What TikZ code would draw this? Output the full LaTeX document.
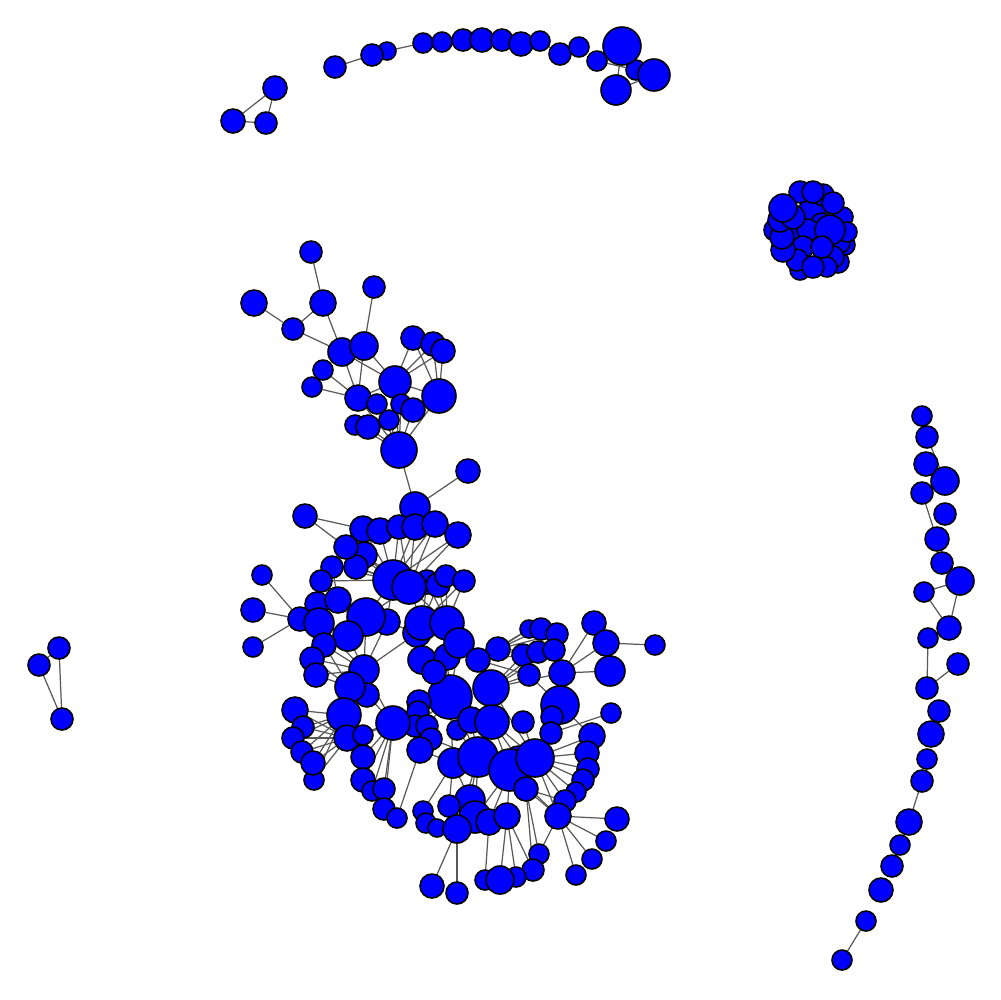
\documentclass[tikz,border=0pt]{standalone}
\pgfdeclarelayer{bg}
\pgfsetlayers{bg,main}
\tikzset{
  vx/.style={circle,draw=black,fill={rgb,255:red,0;green,0;blue,255},inner sep=0pt,line width=0.45pt},
  ed/.style={draw=black!65,line width=0.35pt}
}
\newcommand\V[4]{\node[vx,minimum size=#4*0.2mm] (#1) at (#2,#3) {};}
\begin{document}
\begin{tikzpicture}[x=0.1mm,y=-0.1mm]
\useasboundingbox (0,0) rectangle (1000,1000);
% top-left triangle
\V{t1}{275}{88}{12}\V{t2}{233}{121}{12}\V{t3}{266}{123}{11}
% top arc
\V{a1}{335}{67}{11}\V{a3}{387}{51}{9}\V{a2}{372}{55}{11}\V{a4}{423}{43}{10}\V{a5}{442}{42}{10}
\V{a6}{463}{40}{11}\V{a7}{482}{40}{12}\V{a8}{502}{40}{11}\V{a9}{521}{44}{12}\V{a10}{540}{41}{10}
\V{a11}{560}{54}{11}\V{a12}{579}{47}{10}\V{a13}{597}{61}{10}\V{a15}{636}{70}{10}\V{a14}{622}{46}{19}
\V{a16}{654}{75}{16}\V{a17}{616}{90}{15}
% dense cluster
\V{c21}{812}{212}{14}\V{c22}{805}{237}{13}\V{c23}{822}{225}{12}\V{c24}{792}{247}{12}\V{c25}{838}{262}{11}
\V{c26}{800}{270}{10}\V{c27}{845}{245}{10}\V{c28}{823}{195}{11}\V{c29}{775}{230}{11}
\V{c1}{790}{230}{12}\V{c2}{808}{230}{11}\V{c3}{803}{247}{11}\V{c4}{840}{243}{10}\V{c5}{843}{217}{10}
\V{c6}{847}{232}{10}\V{c7}{833}{257}{11}\V{c8}{797}{260}{11}\V{c9}{827}{267}{10}\V{c11}{783}{250}{12}
\V{c12}{782}{237}{12}\V{c13}{780}{220}{12}\V{c14}{793}{217}{12}\V{c15}{833}{203}{11}\V{c16}{800}{192}{11}
\V{c17}{783}{208}{14}\V{c18}{830}{230}{15}\V{c19}{822}{247}{11}\V{c20}{813}{192}{11}\V{c10}{813}{267}{11}
% left triple
\V{e1}{59}{648}{11}\V{e2}{39}{665}{11}\V{e3}{62}{719}{11}
% right arc
\V{s1}{922}{416}{10}\V{s2}{927}{437}{11}\V{s3}{926}{464}{12}\V{s4}{945}{481}{14}\V{s5}{922}{493}{11}
\V{s6}{945}{514}{11}\V{s7}{937}{539}{12}\V{s8}{942}{563}{11}\V{s9}{960}{581}{14}\V{s10}{924}{592}{10}
\V{s11}{949}{628}{12}\V{s12}{928}{638}{10}\V{s13}{958}{664}{11}\V{s14}{927}{688}{11}\V{s15}{939}{711}{11}
\V{s16}{931}{734}{13}\V{s17}{927}{759}{10}\V{s18}{922}{781}{11}\V{s19}{909}{822}{13}\V{s20}{900}{845}{10}
\V{s21}{892}{866}{11}\V{s22}{881}{890}{12}\V{s23}{866}{921}{10}\V{s24}{842}{960}{10}
% upper-left cluster
\V{uA}{311}{252}{11}\V{uB}{254}{303}{13}\V{uC}{323}{303}{13}\V{uD}{293}{329}{11}\V{uE}{374}{287}{11}
\V{uF}{342}{352}{14}\V{uG}{364}{346}{14}\V{uH}{323}{370}{10}\V{uI}{312}{387}{10}\V{uJ}{413}{338}{12}
\V{uK}{433}{344}{12}\V{uL}{443}{351}{12}\V{uM}{395}{382}{16}\V{uN}{439}{396}{17}\V{uO}{358}{398}{13}
\V{uP}{377}{404}{10}\V{uQ}{401}{404}{10}\V{uR}{413}{410}{12}\V{uS}{355}{425}{10}\V{uT}{368}{427}{12}
\V{uU}{389}{420}{10}\V{uV}{399}{450}{18}\V{uW}{468}{471}{12}
% main cluster
\V{m1}{415}{507}{15}\V{m2}{305}{516}{12}\V{m3}{363}{529}{13}\V{m4}{380}{531}{13}\V{m5}{399}{527}{12}
\V{m6}{415}{527}{13}\V{m7}{435}{524}{13}\V{m8}{458}{535}{13}\V{m10}{364}{555}{13}\V{m11}{356}{567}{12}
\V{m9}{346}{547}{12}\V{m12}{332}{567}{11}\V{m13}{321}{581}{11}\V{m16}{427}{582}{12}\V{m17}{438}{585}{12}
\V{m18}{446}{576}{11}\V{m19}{464}{581}{11}\V{m14}{393}{580}{20}\V{m15}{409}{587}{17}
\V{m20}{262}{575}{10}\V{m21}{253}{610}{12}\V{m22}{253}{647}{10}\V{m24}{317}{604}{12}\V{m25}{338}{600}{13}
\V{m23}{300}{619}{12}\V{m26}{319}{623}{15}\V{m28}{387}{622}{13}\V{m27}{366}{617}{19}\V{m29}{348}{636}{15}
\V{m31}{417}{633}{14}\V{m30}{422}{623}{17}\V{m32}{447}{623}{17}\V{m33}{324}{645}{12}\V{m34}{312}{659}{12}
\V{m35}{316}{675}{12}\V{m36}{364}{670}{15}\V{m43}{367}{695}{12}\V{m42}{350}{687}{15}
\V{r17}{450}{697}{22}
\V{m37}{422}{660}{14}\V{m38}{447}{657}{13}\V{m39}{459}{643}{15}\V{m40}{434}{672}{12}
\V{r61}{419}{702}{12}\V{r67}{418}{712}{11}\V{r62}{415}{726}{11}\V{r63}{427}{726}{11}\V{r64}{431}{739}{11}
\V{r65}{420}{750}{13}\V{r66}{457}{730}{10}\V{m68}{393}{723}{17}
\V{r14}{498}{649}{12}\V{r15}{478}{660}{12}\V{r5}{529}{629}{9}\V{r6}{541}{629}{11}\V{r7}{557}{634}{11}
\V{r8}{523}{655}{11}\V{r9}{538}{652}{11}\V{r10}{554}{650}{11}\V{r11}{529}{675}{11}\V{r12}{562}{673}{13}
\V{r1}{594}{623}{12}\V{r2}{606}{643}{13}\V{r3}{655}{645}{10}\V{r4}{610}{671}{15}\V{r13}{560}{705}{19}
\V{r16}{491}{688}{18}\V{r19}{471}{720}{13}\V{r18}{492}{722}{17}\V{r20}{523}{722}{11}\V{r21}{552}{717}{11}
\V{r22}{551}{733}{11}\V{r23}{611}{713}{10}\V{r24}{592}{736}{13}\V{r25}{587}{753}{12}\V{r26}{588}{769}{11}
\V{r27}{583}{780}{11}\V{r28}{576}{792}{10}\V{r29}{565}{801}{11}
\V{r31}{453}{763}{15}\V{r30}{478}{757}{20}\V{r34}{518}{758}{12}\V{r32}{510}{770}{21}\V{r33}{535}{758}{19}
\V{r35}{526}{789}{12}\V{r36}{470}{800}{15}\V{r38}{449}{806}{11}\V{r41}{423}{811}{10}\V{r42}{426}{823}{10}
\V{r43}{437}{828}{9}\V{r37}{475}{817}{16}\V{r39}{489}{822}{13}\V{r40}{507}{816}{13}\V{r44}{457}{829}{14}
\V{r45}{558}{816}{13}\V{r46}{617}{819}{12}\V{r47}{606}{841}{10}\V{r48}{592}{859}{10}\V{r49}{576}{875}{10}
\V{r50}{539}{854}{10}\V{r51}{533}{870}{11}\V{r52}{516}{877}{10}\V{r54}{485}{880}{10}\V{r53}{500}{880}{14}
\V{r55}{432}{886}{12}\V{r56}{457}{893}{11}
% lower-left group
\V{l1}{295}{710}{13}\V{l2}{303}{727}{11}\V{l3}{293}{738}{11}\V{l4}{302}{752}{11}\V{l6}{314}{780}{10}
\V{l5}{313}{763}{12}\V{l7}{344}{715}{17}\V{l8}{347}{738}{13}\V{l9}{363}{735}{10}\V{l10}{363}{757}{12}
\V{l11}{363}{780}{12}\V{l13}{372}{791}{10}\V{l12}{384}{789}{11}\V{l14}{384}{809}{11}\V{l15}{397}{818}{10}
\begin{pgfonlayer}{bg}
\foreach \a/\b in {t1/t2,t1/t3,t2/t3,a1/a2,a2/a3,a3/a4,a10/a11,a13/a15,a14/a15,a14/a17,a17/a16,a15/a16,
 e1/e3,e2/e3,e1/e2,
 s2/s4,s5/s7,s10/s9,s10/s11,s9/s11,s12/s11,s12/s14,s13/s14,s18/s19,s23/s24,
 uA/uC,uB/uD,uD/uC,uD/uF,uC/uF,uE/uG,uG/uM,uF/uM,uH/uO,uI/uO,uF/uO,uG/uO,uJ/uM,uK/uM,uL/uM,
 uJ/uN,uK/uN,uL/uN,uM/uN,uM/uO,uO/uV,uP/uV,uT/uV,uU/uV,uR/uV,uQ/uV,uM/uV,uN/uV,uS/uV,uV/m1,uW/m1,
 m2/m3,m2/m9,m3/m14,m4/m14,m5/m14,m6/m14,m7/m14,m5/m15,m6/m15,m7/m15,m8/m15,m8/m14,
 m9/m14,m10/m14,m11/m14,m12/m14,m13/m14,m10/m15,m11/m15,m20/m23,m21/m23,m22/m23,
 m16/m30,m17/m30,m18/m32,m19/m32,m16/m32,m17/m32,m19/m30,m15/m30,m15/m32,
 m14/m27,m14/m28,m13/m27,m12/m25,m24/m27,m25/m27,m15/m27,m28/m31,
 m26/m29,m29/m36,m33/m36,m34/m36,m35/m36,m34/m42,m35/m42,m33/m42,m26/m36,m27/m36,m28/m36,m31/m36,
 m42/l7,m43/l7,m36/l7,l1/l7,l2/l7,l3/l7,l4/l7,l5/l7,l6/l7,l2/l8,l3/l8,l4/l8,l5/l8,l1/l8,l6/l8,
 m68/l10,m68/l11,m68/l12,m68/l13,m68/l14,m68/l9,m68/l8,m68/m43,m68/m36,r65/l15,
 m30/m37,m32/m39,m31/m37,m37/r17,m39/r17,m38/r17,
 r14/r5,r14/r6,r14/r8,r14/r9,r15/r5,r15/r8,r15/r11,r16/r8,r16/r9,r16/r11,r16/r12,r16/r10,r14/r7,
 r1/r12,r2/r12,r4/r12,r2/r3,r13/r12,r13/r11,r23/r22,r13/r24,
 r33/r24,r33/r25,r33/r26,r33/r27,r33/r28,r33/r29,r33/r21,r33/r22,
 r18/r33,r18/r34,r18/r30,r19/r30,r16/r33,r20/r33,r18/r32,r17/r30,r17/r31,
 r61/r17,r62/r17,r63/r17,r64/r30,r65/r31,r66/r30,r67/r17,m68/r17,
 r31/r41,r31/r38,r31/r36,r30/r36,r30/r37,r32/r37,r32/r39,r32/r40,r30/r44,r44/r55,r44/r56,
 r39/r54,r40/r53,r40/r52,r40/r51,r35/r51,r35/r50,
 r45/r46,r45/r47,r45/r48,r45/r49,r45/r50,r45/r35,r45/r29,r45/r33,r45/r32,r35/r29,r33/r35}
 \draw[ed] (\a.center) -- (\b.center);
\end{pgfonlayer}
\end{tikzpicture}
\end{document}
